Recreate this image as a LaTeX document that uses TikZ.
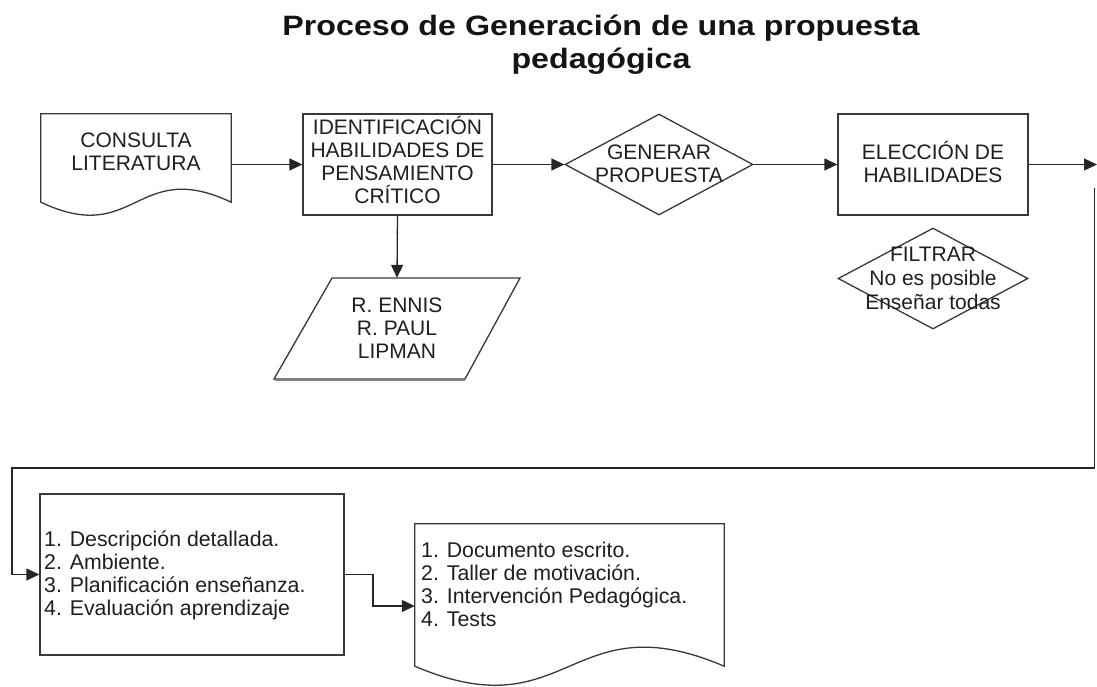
\documentclass[tikz,border=0pt]{standalone}
\usepackage{fontspec}
\setmainfont{Liberation Sans}
\newfontfamily\titlefont[FakeStretch=1.15]{Liberation Sans}
\usetikzlibrary{shapes.geometric,arrows.meta,calc}
\begin{document}
\begin{tikzpicture}[x=1pt,y=-1pt,
  shp/.style={draw=black!78, line width=1.3pt},
  lbl/.style={text=black!88, font=\fontsize{21}{23}\selectfont, align=center, inner sep=0pt},
  lst/.style={text=black!88, font=\fontsize{21.3}{23}\selectfont, align=left, inner sep=0pt},
  conn/.style={draw=black!85, line width=1.3pt},
  arr/.style={conn, -{Triangle[length=13pt,width=12pt]}},
  ttl/.style={text=black!92, font=\titlefont\bfseries\fontsize{28}{33}\selectfont, inner sep=0pt},
]
\useasboundingbox (0,0) rectangle (1097,686);
\fill[white] (0,0) rectangle (1097,686);

% title
\node[ttl, anchor=base] (title1) at (601,35) {Proceso de Generación de una propuesta};
\node[ttl, anchor=base] (title2) at (601,68) {pedagógica};

% document 1
\node[minimum width=190pt, minimum height=88pt, inner sep=0pt] (doc1) at (136,158) {};
\draw[shp] (doc1.north west) -- (doc1.north east) -- (doc1.south east)
  .. controls ($(doc1.south)+(0,-45)$) and ($(doc1.south)+(0,45)$) .. (doc1.south west) -- cycle;
\node[lbl] (doc1t) at (136,151.5) {CONSULTA\\LITERATURA};

% identification box
\node[shp, minimum width=189pt, minimum height=101pt, inner sep=0pt] (ident) at (397.5,164.5) {};
\node[lbl] (identt) at (397.5,159.5) {IDENTIFICACIÓN\\HABILIDADES DE\\PENSAMIENTO\\CRÍTICO};

% generar diamond
\node[shp, diamond, minimum width=188pt, minimum height=101pt, inner sep=0pt] (gen) at (659,164.5) {};
\node[lbl] (gent) at (659,163.5) {GENERAR\\PROPUESTA};

% eleccion box
\node[shp, minimum width=190pt, minimum height=101pt, inner sep=0pt] (elec) at (933,164.5) {};
\node[lbl] (elect) at (933,162) {ELECCIÓN DE\\HABILIDADES};

% filtrar diamond
\node[shp, diamond, minimum width=190pt, minimum height=101pt, inner sep=0pt] (filt) at (933,278.5) {};
\node[lbl, font=\fontsize{21}{24}\selectfont] (filtt) at (933,278) {FILTRAR\\No es posible\\Enseñar todas};

% parallelogram
\node[minimum width=190pt, minimum height=101pt, inner sep=0pt] (para) at (397,328.5) {};
\draw[shp] (332,278) -- (520,278) -- (465,379) -- (274,379) -- cycle;
\draw[black!45, line width=1.6pt] (275,380.6) -- (465,380.6);
\node[lbl] (parat) at (397,328) {R. ENNIS\\R. PAUL\\LIPMAN};

% box 1
\node[shp, minimum width=304pt, minimum height=161pt, inner sep=0pt] (box1) at (192,574.5) {};
\node[lst, anchor=west] (box1t) at (44,575) {1. Descripción detallada.\\2. Ambiente.\\3. Planificación enseñanza.\\4. Evaluación aprendizaje};

% document 2
\node[minimum width=309pt, minimum height=142pt, inner sep=0pt] (doc2) at (569.5,595) {};
\draw[shp] (doc2.north west) -- (doc2.north east) -- (doc2.south east)
  .. controls ($(doc2.south)+(0,-66)$) and ($(doc2.south)+(0,66)$) .. (doc2.south west) -- cycle;
\node[lst, anchor=west] (doc2t) at (421,584) {1. Documento escrito.\\2. Taller de motivación.\\3. Intervención Pedagógica.\\4. Tests};

% connectors
\coordinate (rightend) at (1097,164.5);
\coordinate (vtop) at (1094.5,188);
\coordinate (lowline) at (12,468);
\coordinate (elbow) at (373,606);

\draw[arr] (doc1.east |- ident.west) -- (ident.west);
\draw[arr] (ident.east) -- (gen.west);
\draw[arr] (gen.east) -- (elec.west);
\draw[arr] (elec.east) -- (rightend);
\draw[arr] (ident.south) -- (para.north);
\draw[arr] (vtop) |- (lowline) |- (box1.west);
\draw[arr] (box1.east) -| (elbow) -- (elbow -| doc2.west);
\end{tikzpicture}
\end{document}
